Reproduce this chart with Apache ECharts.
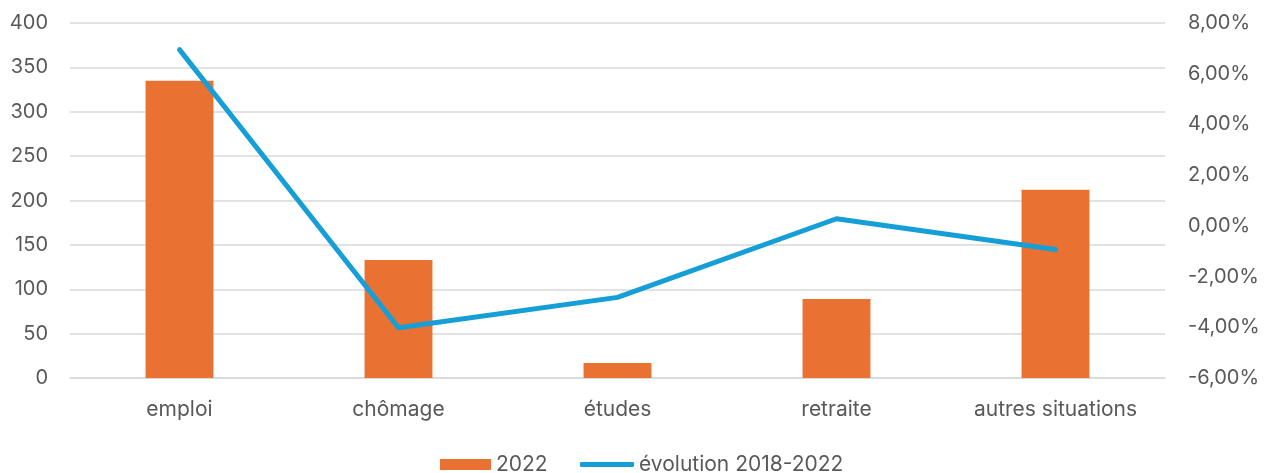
<!DOCTYPE html>
<html><head><meta charset="utf-8">
<script src="https://cdn.jsdelivr.net/npm/echarts@6/dist/echarts.min.js"></script>
<style>html,body{margin:0;padding:0;background:#fff}#c{width:1271px;height:473px}</style>
</head><body><div id="c"></div>
<script>
const categories = ['emploi', 'chômage', 'études', 'retraite', 'autres situations'];
const values2022 = [335, 133, 17, 89, 212];
const evolution = [6.95, -4.02, -2.82, 0.28, -0.93];
const leftTicks = { min: 0, max: 400, interval: 50 };
const rightTicks = { min: -6, max: 8, interval: 2 };

const font = 'Inter, "Noto Sans", sans-serif';
const chart = echarts.init(document.getElementById('c'), null, { renderer: 'canvas' });
chart.setOption({
  animation: false,
  grid: { left: 70, right: 106, top: 23, bottom: 95, containLabel: false },
  legend: [
    { data: ['2022'], left: 435, top: 449, itemWidth: 51, itemHeight: 11, icon: 'rect', itemGap: 0,
      textStyle: { color: '#595959', fontSize: 21, fontFamily: font } },
    { data: [{ name: 'évolution 2018-2022', icon: 'roundRect' }], left: 575, top: 449, itemWidth: 54, itemHeight: 5,
      textStyle: { color: '#595959', fontSize: 21, fontFamily: font } }
  ],
  xAxis: {
    type: 'category', data: categories,
    axisLine: { lineStyle: { color: '#d9d9d9', width: 1.5 } },
    axisTick: { show: false },
    axisLabel: { color: '#595959', fontSize: 21, fontFamily: font, margin: 21 }
  },
  yAxis: [
    { type: 'value', min: leftTicks.min, max: leftTicks.max, interval: leftTicks.interval,
      axisLine: { show: false }, axisTick: { show: false },
      splitLine: { lineStyle: { color: '#d9d9d9', width: 1.5 } },
      axisLabel: { color: '#595959', fontSize: 20, fontFamily: font, margin: 22 } },
    { type: 'value', min: rightTicks.min, max: rightTicks.max, interval: rightTicks.interval,
      axisLine: { show: false }, axisTick: { show: false }, splitLine: { show: false },
      axisLabel: { color: '#595959', fontSize: 20, fontFamily: font, margin: 23,
        formatter: v => v.toFixed(2).replace('.', ',') + '%' } }
  ],
  series: [
    { name: '2022', type: 'bar', data: values2022, barWidth: '31%', yAxisIndex: 0,
      itemStyle: { color: '#E97132' } },
    { name: 'évolution 2018-2022', type: 'line', data: evolution, yAxisIndex: 1,
      symbol: 'none', lineStyle: { color: '#159FD6', width: 5, cap: 'round', join: 'round' },
      itemStyle: { color: '#159FD6' } }
  ]
});
</script></body></html>
